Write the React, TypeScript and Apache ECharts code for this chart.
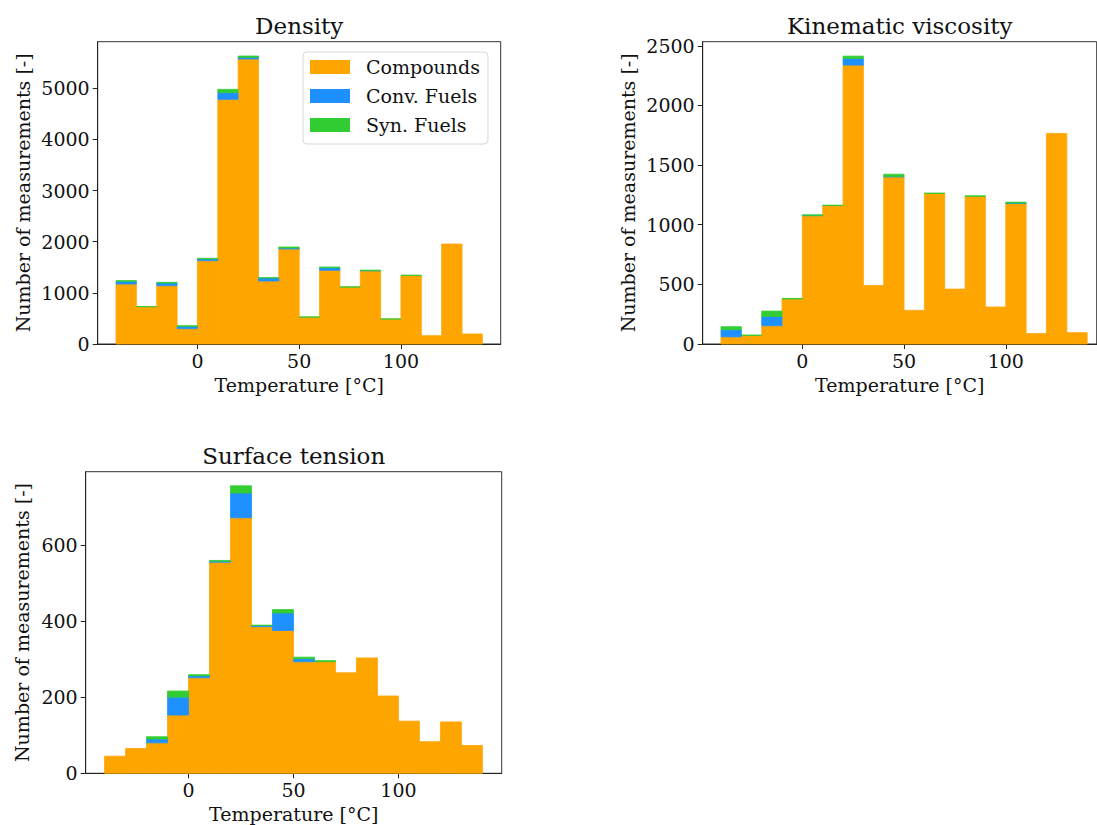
import React, { useEffect, useRef } from "react";
import * as echarts from "echarts";

const binStarts = [-40, -30, -20, -10, 0, 10, 20, 30, 40, 50, 60, 70, 80, 90, 100, 110, 120, 130];
const binWidth = 10;
const seriesNames = ["Compounds", "Conv. Fuels", "Syn. Fuels"];
const seriesColors = ["#FFA500", "#1E90FF", "#32CD32"];

const densityCompounds = [1173, 728, 1141, 300, 1630, 4785, 5574, 1232, 1858, 526, 1441, 1113, 1432, 488, 1341, 163, 1955, 196];
const densityConv = [53, 0, 52, 45, 32, 130, 32, 59, 19, 0, 52, 0, 3, 0, 0, 0, 0, 0];
const densitySyn = [13, 4, 13, 13, 13, 65, 26, 7, 20, 3, 13, 4, 10, 2, 4, 0, 0, 0];

const viscosityCompounds = [60, 72, 153, 377, 1075, 1160, 2338, 490, 1400, 282, 1262, 460, 1238, 310, 1178, 87, 1765, 95];
const viscosityConv = [60, 0, 78, 0, 3, 0, 56, 0, 5, 0, 0, 0, 0, 0, 4, 0, 0, 0];
const viscositySyn = [25, 3, 45, 5, 5, 4, 19, 0, 18, 0, 3, 0, 4, 0, 7, 0, 0, 0];

const tensionCompounds = [45, 65, 80, 153, 251, 554, 671, 385, 375, 293, 293, 264, 303, 203, 137, 83, 135, 73];
const tensionConv = [0, 0, 10, 47, 5, 3, 65, 3, 46, 8, 0, 0, 0, 0, 0, 0, 0, 0];
const tensionSyn = [0, 0, 6, 16, 3, 2, 19, 1, 9, 4, 3, 0, 0, 0, 0, 0, 0, 0];

const xTicks = [0, 50, 100];
const densityTicks = [0, 1000, 2000, 3000, 4000, 5000];
const viscosityTicks = [0, 500, 1000, 1500, 2000, 2500];
const tensionTicks = [0, 200, 400, 600];

const xLabel = "Temperature [°C]";
const yLabel = "Number of measurements [-]";

const FONT = "DejaVu Serif";
const TEXT = "#111";

const panels = [
  {
    title: "Density",
    grid: { left: 97.7, top: 41.7, width: 403, height: 302.3 },
    xMin: -49, xMax: 149, yMax: 5912,
    yTicks: densityTicks,
    layers: [densityCompounds, densityConv, densitySyn],
  },
  {
    title: "Kinematic viscosity",
    grid: { left: 702.7, top: 41.7, width: 394, height: 302.3 },
    xMin: -49, xMax: 144.7, yMax: 2534,
    yTicks: viscosityTicks,
    layers: [viscosityCompounds, viscosityConv, viscositySyn],
  },
  {
    title: "Surface tension",
    grid: { left: 85.7, top: 471.7, width: 416, height: 301.6 },
    xMin: -49, xMax: 149.2, yMax: 792,
    yTicks: tensionTicks,
    layers: [tensionCompounds, tensionConv, tensionSyn],
  },
];

export default function App() {
  const ref = useRef<HTMLDivElement>(null);

  useEffect(() => {
    if (!ref.current) return;
    const chart = echarts.init(ref.current, undefined, { renderer: "svg" });

    const grids: any[] = [];
    const xAxes: any[] = [];
    const yAxes: any[] = [];
    const series: any[] = [];
    const graphics: any[] = [];
    const plain = (v: number) => String(v);

    panels.forEach((p, pi) => {
      grids.push({
        left: p.grid.left,
        top: p.grid.top,
        width: p.grid.width,
        height: p.grid.height,
        show: true,
        borderColor: "#333",
        borderWidth: 1,
        backgroundColor: "transparent",
      });
      xAxes.push({
        gridIndex: pi,
        type: "value",
        min: p.xMin,
        max: p.xMax,
        axisLine: { show: true, onZero: false, lineStyle: { color: "#222", width: 1 } },
        axisTick: { show: true, length: 5, customValues: xTicks, lineStyle: { color: "#222" } },
        axisLabel: { customValues: xTicks, formatter: plain, fontFamily: FONT, fontSize: 19, color: TEXT, margin: 7 },
        splitLine: { show: false },
        name: xLabel,
        nameLocation: "middle",
        nameGap: 31,
        nameTextStyle: { fontFamily: FONT, fontSize: 19, color: TEXT },
      });
      yAxes.push({
        gridIndex: pi,
        type: "value",
        min: 0,
        max: p.yMax,
        axisLine: { show: true, onZero: false, lineStyle: { color: "#222", width: 1 } },
        axisTick: { show: true, length: 5, customValues: p.yTicks, lineStyle: { color: "#222" } },
        axisLabel: { customValues: p.yTicks, formatter: plain, fontFamily: FONT, fontSize: 19, color: TEXT, margin: 8 },
        splitLine: { show: false },
        name: yLabel,
        nameLocation: "middle",
        nameGap: pi === 2 ? 54 : 65,
        nameTextStyle: { fontFamily: FONT, fontSize: 19, color: TEXT },
      });
      graphics.push({
        type: "text",
        x: p.grid.left + p.grid.width / 2,
        y: p.grid.top - 27,
        style: {
          text: p.title,
          font: `23px "${FONT}"`,
          fill: TEXT,
          align: "center",
          verticalAlign: "top",
        },
      });

      const base = binStarts.map(() => 0);
      p.layers.forEach((vals, li) => {
        const data = binStarts.map((s, i) => {
          const b = base[i];
          const t = b + vals[i];
          base[i] = t;
          return [s, s + binWidth, b, t];
        });
        const color = seriesColors[li];
        series.push({
          type: "custom",
          name: seriesNames[li],
          xAxisIndex: pi,
          yAxisIndex: pi,
          itemStyle: { color },
          encode: { x: [0, 1], y: [2, 3] },
          data,
          renderItem: (params: any, api: any) => {
            const v2 = api.value(2);
            const v3 = api.value(3);
            if (v3 - v2 <= 0) return null;
            const p0 = api.coord([api.value(0), v3]);
            const p1 = api.coord([api.value(1), v2]);
            return {
              type: "rect",
              shape: { x: p0[0], y: p0[1], width: p1[0] - p0[0], height: p1[1] - p0[1] },
              style: { fill: color, stroke: color, lineWidth: 0.8 },
            };
          },
        });
      });
    });

    chart.setOption({
      animation: false,
      backgroundColor: "#fff",
      grid: grids,
      xAxis: xAxes,
      yAxis: yAxes,
      series,
      graphic: graphics,
      legend: {
        orient: "vertical",
        left: 303,
        top: 52,
        itemWidth: 40,
        itemHeight: 14,
        itemGap: 9,
        padding: [5, 8, 9, 7],
        icon: "rect",
        selectedMode: false,
        backgroundColor: "rgba(255,255,255,0.8)",
        borderColor: "#d8d8d8",
        borderWidth: 1,
        borderRadius: 4,
        textStyle: { fontFamily: FONT, fontSize: 19, color: TEXT, lineHeight: 20, padding: [0, 0, 0, 11] },
        data: seriesNames,
      },
    });

    return () => chart.dispose();
  }, []);

  return (
    <div
      ref={ref}
      style={{ position: "fixed", left: 0, top: 0, width: 1097, height: 825, background: "#fff" }}
    />
  );
}
